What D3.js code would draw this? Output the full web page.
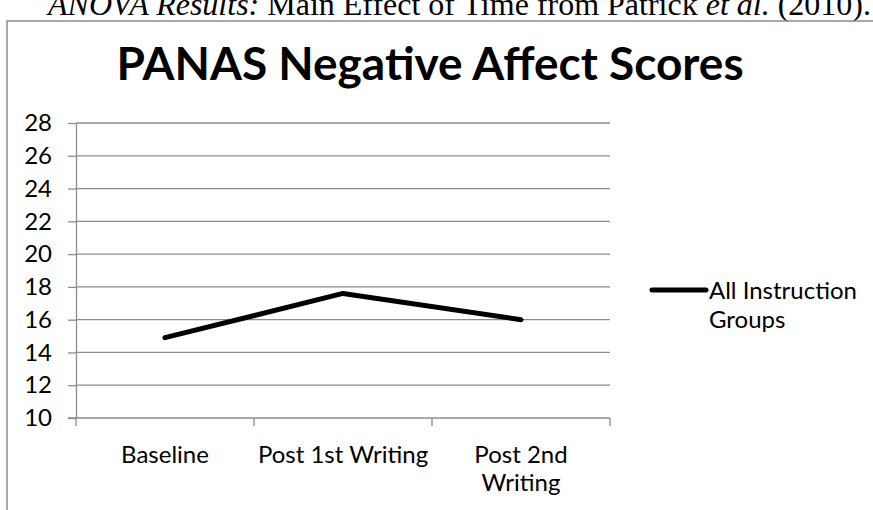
<!DOCTYPE html>
<html>
<head>
<meta charset="utf-8">
<script src="https://cdn.jsdelivr.net/npm/d3@7"></script>
<style>
  body { margin: 0; background: #fff; }
  svg { display: block; }
  text { font-family: Lato, "Open Sans", sans-serif; fill: #000; }
</style>
</head>
<body>
<svg id="chart" width="873" height="510"></svg>
<script>
// data
const categories = [["Baseline"], ["Post 1st Writing"], ["Post 2nd", "Writing"]];
const seriesName = ["All Instruction", "Groups"];
const values = [14.9, 17.6, 16.0];
const yTicks = [10, 12, 14, 16, 18, 20, 22, 24, 26, 28];

const svg = d3.select("#chart");
const W = 873, H = 510;

svg.append("rect").attr("width", W).attr("height", H).attr("fill", "#fff");

// caption above the chart box (cut off at the top in the source)
const cap = svg.append("text")
    .attr("x", 48).attr("y", 15)
    .style("font-family", "'Liberation Serif', 'Times New Roman', serif")
    .style("font-size", "32px");
cap.append("tspan").style("font-style", "italic").text("ANOVA Results:");
cap.append("tspan").text(" Main Effect of Time from Patrick ");
cap.append("tspan").style("font-style", "italic").text("et al.");
cap.append("tspan").text(" (2010).");

// chart frame
svg.append("rect")
    .attr("x", 7).attr("y", 21)
    .attr("width", W + 20).attr("height", H + 20)
    .attr("fill", "none")
    .attr("stroke", "#8c8c8c")
    .attr("stroke-width", 1.5);

// title
svg.append("text")
    .attr("x", 430).attr("y", 80)
    .attr("text-anchor", "middle")
    .style("font-weight", "bold")
    .style("font-size", "46px")
    .text("PANAS Negative Affect Scores");

const plot = { left: 76, right: 610, top: 123, bottom: 418 };

const y = d3.scaleLinear().domain([10, 28]).range([plot.bottom, plot.top]);
const x = d3.scaleBand().domain(d3.range(categories.length)).range([plot.left, plot.right]);

// y ticks
const yAxis = svg.append("g")
    .attr("transform", `translate(${plot.left},0)`)
    .call(d3.axisLeft(y).tickValues(yTicks).tickSize(8).tickSizeOuter(0).tickPadding(16));
yAxis.select(".domain").attr("stroke", "#8c8c8c").attr("stroke-width", 1.3);
yAxis.selectAll(".tick line").attr("stroke", "#8c8c8c").attr("stroke-width", 1.3);
yAxis.selectAll(".tick text")
    .style("font-family", "Lato, sans-serif")
    .style("font-size", "24px")
    .attr("fill", "#000");

// gridlines
svg.append("g")
    .selectAll("line")
    .data(yTicks.slice(1))
    .join("line")
    .attr("x1", plot.left).attr("x2", plot.right)
    .attr("y1", d => y(d)).attr("y2", d => y(d))
    .attr("stroke", "#8c8c8c")
    .attr("stroke-width", 1.3);

// x axis line and boundary ticks
const xg = svg.append("g");
xg.append("line")
    .attr("x1", plot.left - 8).attr("x2", plot.right)
    .attr("y1", plot.bottom).attr("y2", plot.bottom)
    .attr("stroke", "#8c8c8c").attr("stroke-width", 1.3);
const bounds = d3.range(categories.length + 1).map(i => i < categories.length ? x(i) : x(i - 1) + x.bandwidth());
xg.selectAll("line.tk")
    .data(bounds)
    .join("line")
    .attr("class", "tk")
    .attr("x1", d => d).attr("x2", d => d)
    .attr("y1", plot.bottom).attr("y2", plot.bottom + 8)
    .attr("stroke", "#8c8c8c").attr("stroke-width", 1.3);

// category labels
const lab = svg.append("g")
    .selectAll("text")
    .data(categories)
    .join("text")
    .attr("text-anchor", "middle")
    .style("font-size", "24px");
lab.each(function (lines, i) {
    d3.select(this).selectAll("tspan")
        .data(lines)
        .join("tspan")
        .attr("x", x(i) + x.bandwidth() / 2)
        .attr("y", (d, j) => 463 + j * 28)
        .text(d => d);
});

// the series line
const line = d3.line()
    .x((d, i) => x(i) + x.bandwidth() / 2)
    .y(d => y(d));
svg.append("path")
    .datum(values)
    .attr("d", line)
    .attr("fill", "none")
    .attr("stroke", "#000")
    .attr("stroke-width", 5)
    .attr("stroke-linejoin", "round")
    .attr("stroke-linecap", "round");

// legend
svg.append("line")
    .attr("x1", 652).attr("x2", 706)
    .attr("y1", 290).attr("y2", 290)
    .attr("stroke", "#000").attr("stroke-width", 5)
    .attr("stroke-linecap", "round");
svg.append("g")
    .selectAll("text")
    .data(seriesName)
    .join("text")
    .attr("x", 709)
    .attr("y", (d, i) => 299 + i * 29)
    .style("font-size", "24px")
    .text(d => d);
</script>
</body>
</html>
